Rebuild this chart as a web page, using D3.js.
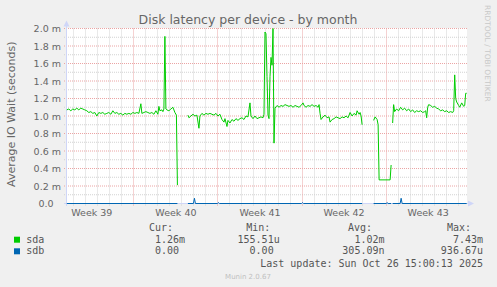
<!DOCTYPE html>
<html>
<head>
<meta charset="utf-8">
<script src="https://cdn.jsdelivr.net/npm/d3@7"></script>
<style>
  body { margin: 0; background: #f0f0f0; }
  svg { display: block; }
  text { font-family: "DejaVu Sans", sans-serif; }
  .mono { font-family: "DejaVu Sans Mono", monospace; white-space: pre; }
</style>
</head>
<body>
<div id="chart"></div>
<script>
// hours counted from Monday of week 40 (2025-09-29 00:00 UTC)
var sdaHours = [-133,-129,-125,-121,-117,-113,-109,-105,-101,-97,-93,-89,-85,-81,-77,-73,-69,-65,-61,-57,-53,-49,-45,-41,-37,-33,-29,-25,-21,-17,-13,-9,-5,-1,
  3,7,11,15,17,21,25,29,33,37,41,45,49,51,53,57,59,61,63,65,67,71,75,79,83,86,88,90,
  109,111,115,119,123,127,131,133,137,141,145,149,153,157,161,165,169,173,177,181,183,187,189,193,197,201,205,209,213,217,221,225,229,233,235,239,243,247,251,255,259,261,
  263,265,267,269,271,273,275,277,279,281,283,287,291,295,299,303,307,311,315,319,323,327,331,335,339,341,345,349,353,357,361,365,369,371,
  373,375,379,383,387,391,393,397,401,405,409,413,417,421,425,429,433,437,441,445,447,451,453,455,457,459,
  480,483,487,489,491,513,515,516,
  518,520,522,526,530,534,538,542,546,550,554,558,562,566,570,574,578,582,584,586,588,590,594,598,602,606,610,614,618,622,626,630,634,638,640,642,644,646,650,652,656,660,662,664,666];
var sdaValues = [1.07,1.08,1.06,1.08,1.07,1.09,1.07,1.09,1.08,1.07,1.06,1.04,1.05,1.03,1.04,1.00,1.04,1.03,1.04,1.02,1.03,1.04,1.02,1.06,1.03,1.04,1.02,1.03,1.01,1.03,1.02,1.03,1.02,1.04,
  1.03,1.04,1.03,1.14,1.03,1.04,1.05,1.04,1.03,1.04,1.02,1.06,1.02,1.11,1.06,1.07,1.05,1.08,1.91,1.08,1.07,1.06,1.08,1.10,1.04,1.01,0.21,null,
  1.01,0.98,1.00,1.02,1.00,1.01,0.86,1.00,1.03,1.01,1.03,1.02,1.03,1.02,1.01,1.03,1.00,1.02,0.96,0.93,0.97,0.88,0.95,0.92,0.96,0.94,0.97,0.95,0.97,0.98,0.96,1.00,0.99,1.15,1.00,0.97,1.00,0.97,0.98,0.99,0.98,1.02,
  1.96,1.94,1.45,1.01,0.97,1.45,1.67,1.58,2.00,0.69,1.09,1.12,1.10,1.12,1.11,1.13,1.12,1.11,1.12,1.10,1.12,1.11,1.10,1.12,1.15,1.12,1.10,1.12,1.11,1.13,1.11,1.12,1.10,1.13,
  1.03,0.96,0.99,1.01,0.98,0.99,0.93,0.96,0.97,0.99,0.98,0.97,0.99,0.98,1.00,0.98,1.04,1.00,1.03,1.01,1.06,1.02,1.04,1.00,0.90,null,
  0.95,0.99,0.96,0.90,0.27,0.27,0.44,null,
  0.92,1.13,1.05,1.08,1.06,1.10,1.07,1.09,1.06,1.08,1.05,1.07,1.04,1.06,1.05,1.06,1.04,1.05,1.06,0.98,1.10,1.13,1.12,1.10,1.11,1.09,1.08,1.06,1.07,1.05,1.06,1.04,1.05,1.04,1.06,1.47,1.20,1.16,1.12,1.10,1.15,1.11,1.12,1.26,1.26];

var sdbHours = [-133,88,90,109,120,122,124,168,170,172,336,338,340,457,459,480,505,507,509,515,516,518,533,535,537,666];
var sdbValues = [0,0,null,0,0,0.06,0,0,0.01,0,0,0.01,0,0,null,0,0,0.01,0,0,null,0,0,0.06,0,0];

var viewHours = [-132.6, 666.6];
var yTicks = [0, 0.2, 0.4, 0.6, 0.8, 1.0, 1.2, 1.4, 1.6, 1.8, 2.0];
var weekLabels = ["Week 39", "Week 40", "Week 41", "Week 42", "Week 43"];
var weekCenterHours = [-84, 84, 252, 420, 588];

var seriesNames = ["sda", "sdb"];
var seriesColors = ["#00cc00", "#0066b3"];
var legendHeaders = ["Cur:", "Min:", "Avg:", "Max:"];
var sdaStats = ["1.26m", "155.51u", "1.02m", "7.43m"];
var sdbStats = ["0.00 ", "0.00 ", "305.09n", "936.67u"];

var svgWidth = 497, svgHeight = 287;
var base = Date.UTC(2025, 8, 29);
function hourToDate(h) { return new Date(base + h * 3600e3); }

var svg = d3.select("#chart").append("svg")
  .attr("width", svgWidth)
  .attr("height", svgHeight);

svg.append("rect").attr("width", svgWidth).attr("height", svgHeight).attr("fill", "#f0f0f0");

var x = d3.scaleUtc()
  .domain(viewHours.map(hourToDate))
  .range([67, 467]);
var y = d3.scaleLinear()
  .domain([0, 2])
  .range([203.5, 28.5]);

// canvas
svg.append("rect")
  .attr("x", 67).attr("y", 28)
  .attr("width", 400).attr("height", 176)
  .attr("fill", "#ffffff");

// horizontal grid
var hGrid = d3.range(1, 21).map(i => i / 10);
svg.append("g").selectAll("line")
  .data(hGrid)
  .enter().append("line")
  .attr("x1", 64).attr("x2", 467)
  .attr("y1", d => y(d)).attr("y2", d => y(d))
  .attr("stroke", (d, i) => (i % 2 == 1) ? "#eba4a4" : "#d2d2d2")
  .attr("stroke-dasharray", "1,1");

// vertical grid (daily, weekly in red)
var days = d3.utcDay.range(x.domain()[0], x.domain()[1]);
svg.append("g").selectAll("line")
  .data(days)
  .enter().append("line")
  .attr("x1", d => Math.round(x(d)) + 0.5).attr("x2", d => Math.round(x(d)) + 0.5)
  .attr("y1", 28.5).attr("y2", 206)
  .attr("stroke", d => d.getUTCDay() == 1 ? "#eba4a4" : "#d2d2d2")
  .attr("stroke-dasharray", "1,1");

// axes lines + arrows
var axisColor = "#cfd6f8";
svg.append("line").attr("x1", 66.5).attr("x2", 66.5).attr("y1", 206).attr("y2", 24)
  .attr("stroke", axisColor);
svg.append("line").attr("x1", 64).attr("x2", 470).attr("y1", 203.5).attr("y2", 203.5)
  .attr("stroke", axisColor);
svg.append("path").attr("d", "M63.5,26.5L69.5,26.5L66.5,20.5Z").attr("fill", axisColor);
svg.append("path").attr("d", "M468,200.5L468,206.5L474,203.5Z").attr("fill", axisColor);

// series
function makeData(hours, values) {
  return hours.map((h, i) => ({t: hourToDate(h), v: values[i]}));
}
var line = d3.line()
  .defined(d => d.v != null)
  .x(d => x(d.t))
  .y(d => y(d.v));

svg.append("path")
  .datum(makeData(sdbHours, sdbValues))
  .attr("d", line)
  .attr("fill", "none")
  .attr("stroke", seriesColors[1])
  .attr("stroke-width", 1);

svg.append("path")
  .datum(makeData(sdaHours, sdaValues))
  .attr("d", line)
  .attr("fill", "none")
  .attr("stroke", seriesColors[0])
  .attr("stroke-width", 1);

// y axis labels
var yAxis = d3.axisLeft(y)
  .tickValues(yTicks)
  .tickSize(0)
  .tickPadding(5.5)
  .tickFormat(d => d === 0 ? "0.0" : d3.format(".1f")(d) + " m");
var gy = svg.append("g")
  .attr("transform", "translate(66.5,0)")
  .call(yAxis);
gy.select(".domain").remove();
gy.attr("font-family", "DejaVu Sans").attr("font-size", 9.5);
gy.selectAll("text").attr("fill", "#666");
gy.selectAll("text").filter(d => d === 0).attr("dx", -7.5);

// x axis labels
var xAxis = d3.axisBottom(x)
  .tickValues(weekCenterHours.map(hourToDate))
  .tickSize(0)
  .tickPadding(5.5)
  .tickFormat((d, i) => weekLabels[i]);
var gx = svg.append("g")
  .attr("transform", "translate(0,203.5)")
  .call(xAxis);
gx.select(".domain").remove();
gx.attr("font-family", "DejaVu Sans").attr("font-size", 9.5);
gx.selectAll("text").attr("fill", "#666");

// title
svg.append("text")
  .attr("x", 248).attr("y", 24)
  .attr("text-anchor", "middle")
  .attr("font-size", 12.5)
  .attr("fill", "#666")
  .text("Disk latency per device - by month");

// y axis title
svg.append("text")
  .attr("transform", "translate(15,114.2) rotate(-90)")
  .attr("text-anchor", "middle")
  .attr("font-size", 11)
  .attr("fill", "#666")
  .text("Average IO Wait (seconds)");

// watermark
svg.append("text")
  .attr("transform", "translate(485,5) rotate(90)")
  .attr("font-size", 7.5)
  .attr("fill", "#c8c8c8")
  .text("RRDTOOL / TOBI OETIKER");

// legend
var headerX = [149, 246.3, 348, 447];
var colEnds = [185, 279.7, 384.5, 483];
svg.append("g").selectAll("text")
  .data(legendHeaders)
  .enter().append("text")
  .attr("class", "mono")
  .attr("x", (d, i) => headerX[i]).attr("y", 231)
  .attr("font-size", 10)
  .attr("fill", "#555")
  .text(d => d);

var rows = [sdaStats, sdbStats];
rows.forEach(function(stats, r) {
  var yy = 242.7 + r * 11.6;
  svg.append("rect")
    .attr("x", 14).attr("y", yy - 6)
    .attr("width", 6).attr("height", 6)
    .attr("fill", seriesColors[r]);
  svg.append("text")
    .attr("class", "mono")
    .attr("x", 26.3).attr("y", yy)
    .attr("font-size", 10)
    .attr("fill", "#555")
    .text(seriesNames[r]);
  svg.append("g").selectAll("text")
    .data(stats)
    .enter().append("text")
    .attr("class", "mono")
    .attr("x", (d, i) => colEnds[i]).attr("y", yy)
    .attr("text-anchor", "end")
    .attr("font-size", 10)
    .attr("fill", "#555")
    .text(d => d);
});

svg.append("text")
  .attr("class", "mono")
  .attr("x", 483).attr("y", 266.5)
  .attr("text-anchor", "end")
  .attr("font-size", 10)
  .attr("fill", "#555")
  .text("Last update: Sun Oct 26 15:00:13 2025");

svg.append("text")
  .attr("x", 248).attr("y", 278.5)
  .attr("text-anchor", "middle")
  .attr("font-size", 7)
  .attr("fill", "#c0c0c0")
  .text("Munin 2.0.67");
</script>
</body>
</html>
